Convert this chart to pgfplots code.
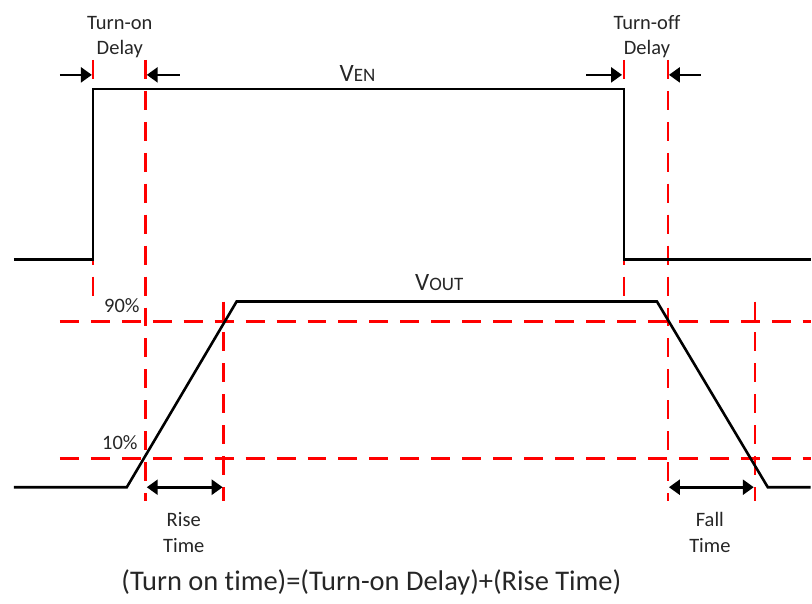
\documentclass[border=0pt]{standalone}
\usepackage{pgfplots}
\pgfplotsset{compat=1.18}
\usetikzlibrary{arrows.meta}
\usepackage{fontspec}
\setmainfont{Carlito}[Ligatures={NoCommon,NoRare,NoContextual}]
\definecolor{dashred}{RGB}{255,0,0}

\begin{document}
\begin{tikzpicture}[lbl/.style={font=\fontsize{20.5}{23}\selectfont, text=black!85, inner sep=0pt}]
\begin{axis}[
  width=812pt, height=604pt, scale only axis,
  xmin=0, xmax=812, ymin=0, ymax=604,
  y dir=reverse,
  hide axis, clip=false,
]
% frame corners
\addplot[draw=none] coordinates {(0,0)(812,604)};

% red dashed guides
\pgfplotsset{guide/.style={dashred, line width=2.6pt, dash pattern=on 19pt off 12pt}}
\addplot[guide] coordinates {(93,60)(93,300)};
\addplot[guide] coordinates {(146,60)(146,502)};
\addplot[guide] coordinates {(224,302)(224,502)};
\addplot[guide] coordinates {(625,60)(625,300)};
\addplot[guide] coordinates {(669,60)(669,502)};
\addplot[guide] coordinates {(756,302)(756,502)};
\addplot[guide] coordinates {(60,322)(812,322)};
\addplot[guide] coordinates {(60,459)(812,459)};

% signals
\addplot[black, line width=2.6pt, line join=miter] coordinates
  {(14,260)(93,260)(93,89)(625,89)(625,260)(812,260)};
\addplot[black, line width=2.6pt] coordinates
  {(14,488)(127,488)(237,302)(658,302)(769,488)(812,488)};

% delay arrows
\pgfplotsset{dim/.style={black, line width=2.6pt, -{Triangle[length=11pt,width=15pt]}}}
\addplot[dim] coordinates {(60,75)(92,75)};
\addplot[dim] coordinates {(180,75)(147,75)};
\addplot[dim] coordinates {(587,75)(623,75)};
\addplot[dim] coordinates {(702,75)(670,75)};
\addplot[black, line width=2.6pt, {Triangle[length=11pt,width=15pt]}-{Triangle[length=11pt,width=15pt]}] coordinates {(147,488)(223,488)};
\addplot[black, line width=2.6pt, {Triangle[length=11pt,width=15pt]}-{Triangle[length=11pt,width=15pt]}] coordinates {(670,488)(755,488)};

% labels
\node[lbl] at (axis cs:120,23) {Turn-on};
\node[lbl] at (axis cs:120,49) {Delay};
\node[lbl] at (axis cs:648,23) {Turn-off};
\node[lbl] at (axis cs:648,49) {Delay};
\node[lbl, font=\fontsize{25}{26}\selectfont] at (axis cs:358,74) {V\fontsize{19}{20}\selectfont EN};
\node[lbl, font=\fontsize{25}{26}\selectfont] at (axis cs:440,283) {V\fontsize{19}{20}\selectfont OUT};
\node[lbl, anchor=east] at (axis cs:140,306) {90\%};
\node[lbl, anchor=east] at (axis cs:138,443) {10\%};
\node[lbl] at (axis cs:184,520) {Rise};
\node[lbl] at (axis cs:184,546) {Time};
\node[lbl] at (axis cs:711,520) {Fall};
\node[lbl] at (axis cs:711,546) {Time};
\node[lbl, font=\fontsize{28.5}{30}\selectfont] at (axis cs:372,583) {(Turn on time)=(Turn-on Delay)+(Rise Time)};
\end{axis}
\end{tikzpicture}
\end{document}
